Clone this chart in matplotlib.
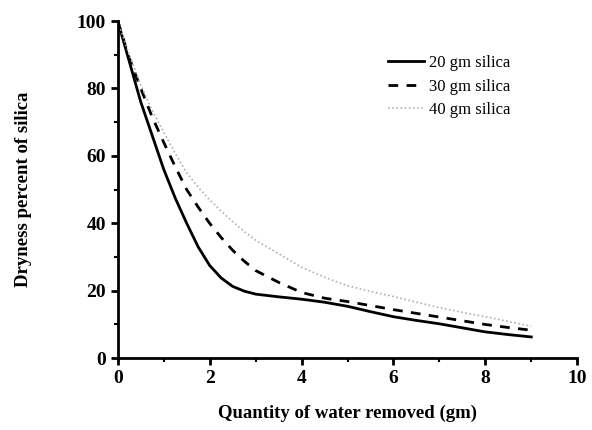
import matplotlib
matplotlib.use('Agg')
import matplotlib.pyplot as plt
import numpy as np

plt.rcParams['font.family'] = 'Liberation Serif'

# quantity of water removed (gm)
x_20 = [0, 0.25, 0.5, 0.75, 1.0, 1.25, 1.5, 1.75, 2.0, 2.25, 2.5, 2.75, 3.0, 3.5, 4.0, 4.5, 5.0, 5.5, 6.0, 6.5, 7.0, 7.5, 8.0, 8.5, 9.0]
y_20 = [100, 88, 76, 66, 56, 47.5, 40, 33, 27.5, 23.8, 21.3, 19.9, 19, 18.2, 17.5, 16.6, 15.4, 13.8, 12.3, 11.2, 10.2, 9.0, 7.8, 7.0, 6.3]

x_30 = [0, 0.25, 0.5, 0.75, 1.0, 1.25, 1.5, 1.75, 2.0, 2.25, 2.5, 2.75, 3.0, 3.5, 4.0, 4.5, 5.0, 5.5, 6.0, 6.5, 7.0, 7.5, 8.0, 8.5, 9.0]
y_30 = [100, 89, 80, 71.5, 64, 56.8, 50, 44.8, 40, 35.8, 32, 28.8, 26, 22.5, 19.5, 17.8, 16.8, 15.6, 14.4, 13.3, 12.2, 11.1, 10, 9.1, 8.3]

x_40 = [0, 0.25, 0.5, 0.75, 1.0, 1.25, 1.5, 1.75, 2.0, 2.25, 2.5, 2.75, 3.0, 3.5, 4.0, 4.5, 5.0, 5.5, 6.0, 6.5, 7.0, 7.5, 8.0, 8.5, 9.0]
y_40 = [100, 90, 81, 73.5, 67, 60.8, 55, 50.7, 47, 43.6, 40.5, 37.6, 35, 31, 27, 24, 21.5, 19.8, 18.3, 16.6, 15, 13.6, 12.3, 10.9, 9.5]

fig = plt.figure(figsize=(5.92, 4.30), dpi=100)
ax = fig.add_axes([0.199, 0.167, 0.776, 0.784])

ax.plot(x_20, y_20, color='black', lw=2, label='20 gm silica')
ax.plot(x_30, y_30, color='black', lw=2, ls=(0, (3.5, 3)), label='30 gm silica')
ax.plot(x_40, y_40, color='#b0b0b0', lw=1.2, ls=(0, (1, 1.5)), label='40 gm silica')

ax.set_xlim(0, 10)
ax.set_ylim(0, 100)
ax.set_xticks([0, 2, 4, 6, 8, 10])
ax.set_yticks([0, 20, 40, 60, 80, 100])
ax.set_xticks(np.arange(1, 10, 2), minor=True)
ax.set_yticks(np.arange(10, 100, 20), minor=True)

for s in ['top', 'right']:
    ax.spines[s].set_visible(False)
for s in ['left', 'bottom']:
    ax.spines[s].set_linewidth(2)

ax.tick_params(which='major', direction='out', length=5, width=2, labelsize=14)
ax.tick_params(which='minor', direction='out', length=3, width=1.5)
for lab in ax.get_xticklabels() + ax.get_yticklabels():
    lab.set_fontweight('bold')

ax.set_xlabel('Quantity of water removed (gm)', fontsize=13.5, fontweight='bold', labelpad=13)
ax.set_ylabel('Dryness percent of silica', fontsize=13.5, fontweight='bold', labelpad=32)

leg = ax.legend(loc='upper left', bbox_to_anchor=(0.555, 0.943), frameon=False,
                fontsize=12, handlelength=2.2, handletextpad=0.3, labelspacing=0.45)

fig.savefig('out.png', dpi=100)
